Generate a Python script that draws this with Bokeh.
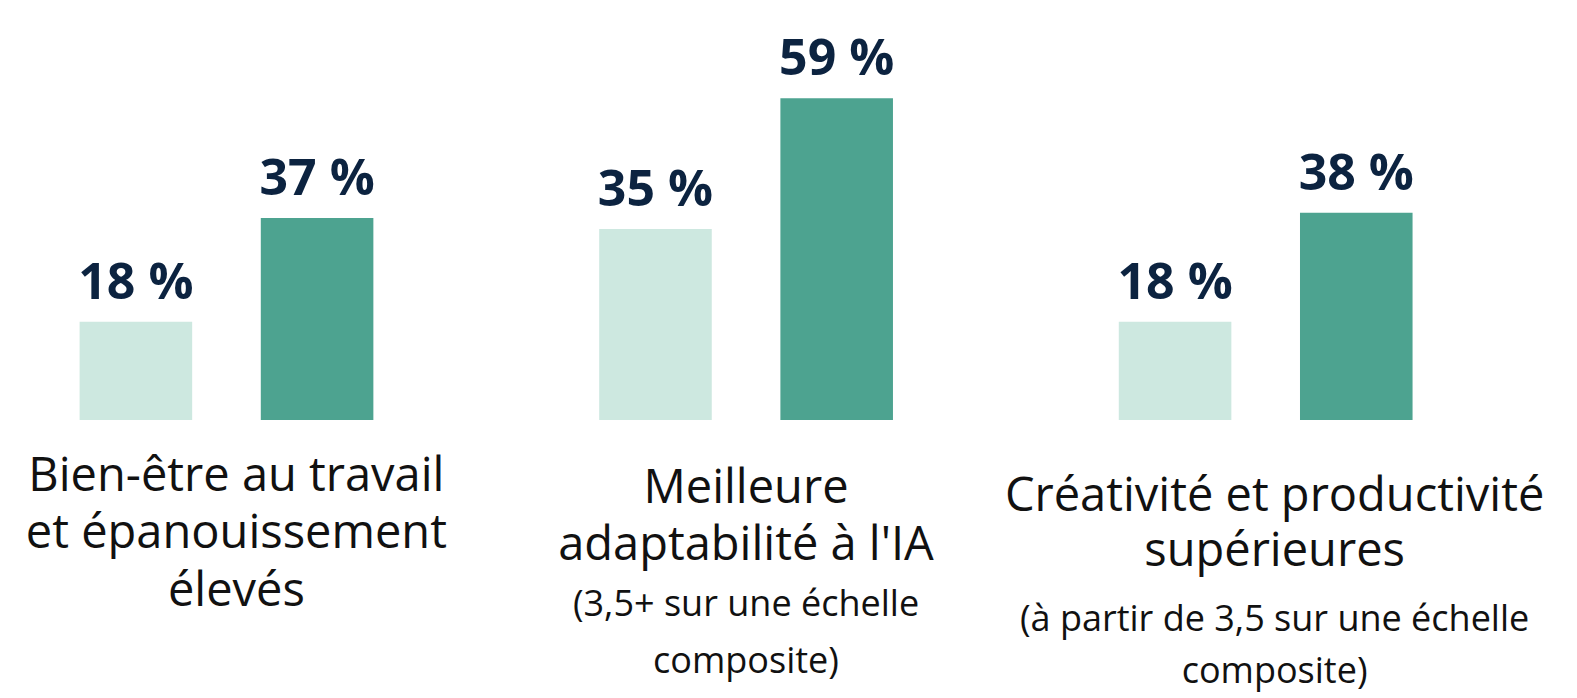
from bokeh.plotting import figure
from bokeh.models import FactorRange, Range1d, ColumnDataSource
from bokeh.core.properties import value
from bokeh.transform import dodge
from bokeh.embed import file_html
from bokeh.resources import INLINE

# ---- data ----
categories = ["Bien-être", "Adaptabilité IA", "Créativité"]
series = ["Groupe A", "Groupe B"]
values_a = [18, 35, 18]
values_b = [37, 59, 38]
title_lines = [
    ["Bien-être au travail", "et épanouissement", "élevés"],
    ["Meilleure", "adaptabilité à l'IA"],
    ["Créativité et productivité", "supérieures"],
]
note_lines = [
    [],
    ["(3,5+ sur une échelle", "composite)"],
    ["(à partir de 3,5 sur une échelle", "composite)"],
]

LIGHT = "#cde8e0"
DARK = "#4da390"
NAVY = "#0c2340"
BLACK = "#111111"

x_factors = [(c, s) for c in categories for s in series]
vals = []
cols = []
labels = []
for a, b in zip(values_a, values_b):
    vals += [a, b]
    cols += [LIGHT, DARK]
    labels += [f"{a} %", f"{b} %"]

src = ColumnDataSource(dict(x=x_factors, top=vals, color=cols, label=labels))

xr = FactorRange(*x_factors, factor_padding=0.6, group_padding=1.988,
                 range_padding=1.0744, range_padding_units="absolute")

p = figure(width=1577, height=698, x_range=xr, y_range=Range1d(-51.08, 76.9),
           output_backend="svg", toolbar_location=None,
           x_axis_location=None, y_axis_location=None)
p.min_border = 0
p.outline_line_color = None
p.grid.visible = False
p.background_fill_color = "white"

SHIFT = -0.379          # shift of the whole group layout (range units)
SHIFT_PX = -43          # same shift in pixels for texts

xd = dodge("x", SHIFT, range=xr)
p.vbar(x=xd, top="top", bottom=0, width=0.994, color="color", line_color=None, source=src)

p.text(x=xd, y="top", text="label", source=src, y_offset=-42,
       text_align="center", text_baseline="alphabetic",
       text_font=value("Open Sans"), text_font_style="bold",
       text_font_size="50px", text_color=NAVY)

TS = 47
NS = 36
title_first = [53, 65, 73]
title_step = [57.5, 57, 55]
note_first = [0, 183, 198]
note_step = [0, 57, 52]
x_shift = [10, 0, 9]
for i, c in enumerate(categories):
    for j, line in enumerate(title_lines[i]):
        p.text(x=[c], y=[0], text=[line], x_offset=SHIFT_PX + x_shift[i],
               y_offset=title_first[i] + j * title_step[i],
               text_align="center", text_baseline="alphabetic",
               text_font=value("Open Sans"), text_font_size=f"{TS}px", text_color=BLACK)
    for j, line in enumerate(note_lines[i]):
        p.text(x=[c], y=[0], text=[line], x_offset=SHIFT_PX + x_shift[i],
               y_offset=note_first[i] + j * note_step[i],
               text_align="center", text_baseline="alphabetic",
               text_font=value("Open Sans"), text_font_size=f"{NS}px", text_color=BLACK)

open("out.html", "w").write(file_html(p, INLINE))
